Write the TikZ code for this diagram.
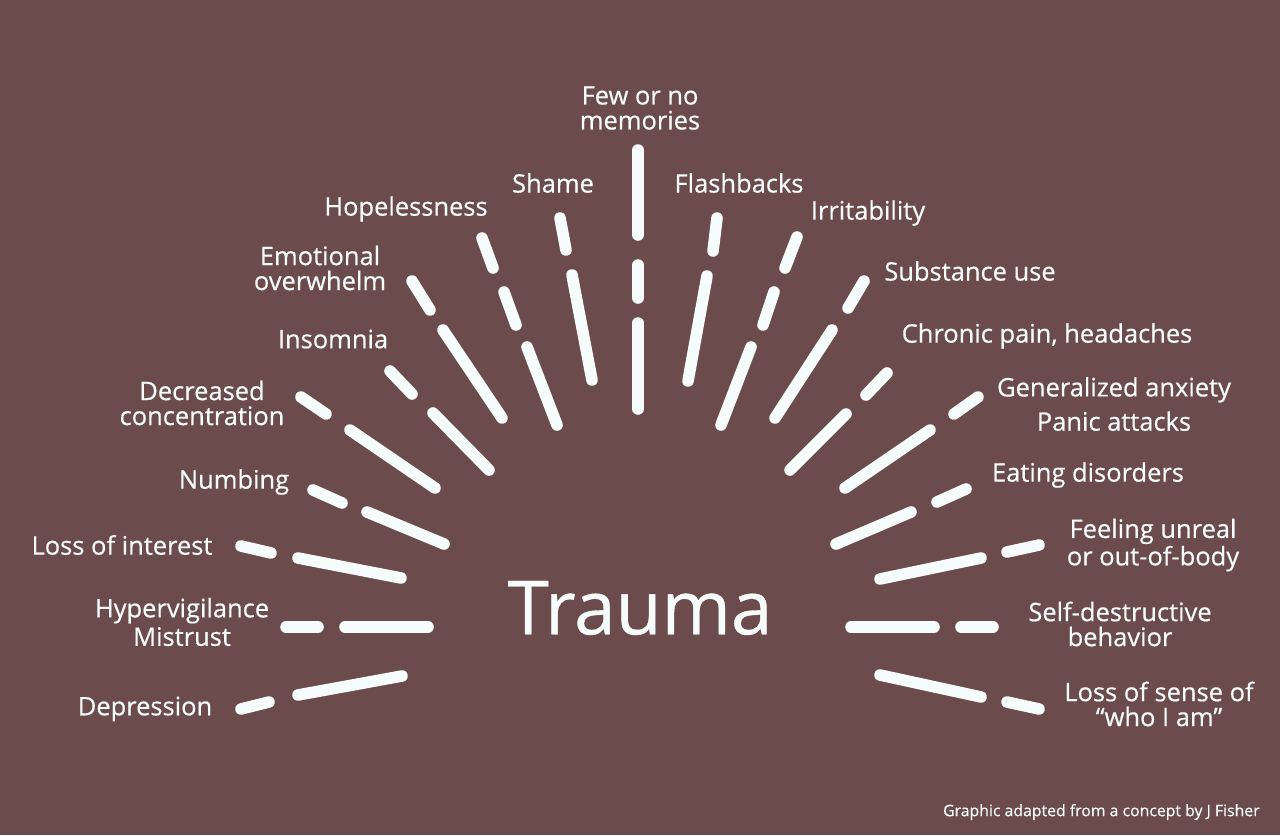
\documentclass[tikz,border=0pt]{standalone}
\usepackage{fontspec}
\setmainfont{Open Sans}[FakeBold=0.5]
\usepackage{xcolor}
\definecolor{bgbrown}{RGB}{107,75,76}
\definecolor{raywhite}{RGB}{246,251,251}

\begin{document}
\begin{tikzpicture}[x=0.02cm,y=-0.02cm,
  ray/.style={raywhite,line width=6.6pt,line cap=round},
  lbl/.style={text=raywhite,align=center,inner sep=0pt,font=\fontsize{14.5}{14.2}\selectfont}]
\fill[bgbrown] (0,0) rectangle (1280,835);
\useasboundingbox (0,0) rectangle (1280,835);
\node[lbl,font=\fontsize{42.5}{45}\selectfont] (trauma) at (640,608) {Trauma};
% left half
\draw[ray] (241,709) -- (269,702);
\draw[ray] (298,695) -- (402,676);
\draw[ray] (286,627) -- (318,627);
\draw[ray] (345,627) -- (428,627);
\draw[ray] (241,546) -- (271,553);
\draw[ray] (298,558) -- (401,578);
\draw[ray] (313,490) -- (342,503);
\draw[ray] (367,512) -- (444,544);
\draw[ray] (301,397) -- (326,414);
\draw[ray] (350,430) -- (435,488);
\draw[ray] (390,371) -- (412,394);
\draw[ray] (433,413) -- (489,470);
\draw[ray] (412,281) -- (430,310);
\draw[ray] (443,330) -- (502,418);
\draw[ray] (482,238) -- (493,268);
\draw[ray] (504,292) -- (516,325);
\draw[ray] (527,347) -- (557,425);
\draw[ray] (560,218) -- (566,250);
\draw[ray] (572,275) -- (592,380);
% top
\draw[ray] (638,150) -- (638,235);
\draw[ray] (638,265) -- (638,298);
\draw[ray] (638,323) -- (638,409);
% right half
\draw[ray] (717,218) -- (713,251);
\draw[ray] (707,276) -- (688,381);
\draw[ray] (797,237) -- (785,268);
\draw[ray] (774,292) -- (763,325);
\draw[ray] (751,347) -- (721,425);
\draw[ray] (864,281) -- (848,308);
\draw[ray] (832,330) -- (775,418);
\draw[ray] (887,373) -- (866,395);
\draw[ray] (846,414) -- (790,470);
\draw[ray] (978,397) -- (954,414);
\draw[ray] (930,430) -- (845,488);
\draw[ray] (966,489) -- (937,502);
\draw[ray] (911,512) -- (836,544);
\draw[ray] (1039,545) -- (1007,552);
\draw[ray] (981,558) -- (880,579);
\draw[ray] (851,627) -- (934,627);
\draw[ray] (961,627) -- (993,627);
\draw[ray] (880,675) -- (981,697);
\draw[ray] (1007,702) -- (1039,709);
% labels
\node[lbl] (few) at (640,108) {Few or no\\memories};
\node[lbl] (shame) at (553,183) {Shame};
\node[lbl] (hope) at (406,209) {Hopelessness};
\node[lbl] (emo) at (320,268) {Emotional\\overwhelm};
\node[lbl] (insom) at (333,339) {Insomnia};
\node[lbl] (conc) at (202,403) {Decreased\\concentration};
\node[lbl] (numb) at (234,482) {Numbing};
\node[lbl] (interest) at (122,545) {Loss of interest};
\node[lbl] (hyper) at (182,622) {Hypervigilance\\[2pt]Mistrust};
\node[lbl] (depr) at (145,709) {Depression};
\node[lbl] (flash) at (739,183) {Flashbacks};
\node[lbl] (irrit) at (868,213) {Irritability};
\node[lbl] (subst) at (970,271) {Substance use};
\node[lbl] (pain) at (1047,336) {Chronic pain, headaches};
\node[lbl] (anx) at (1114,404) {Generalized anxiety\\[4pt]Panic attacks};
\node[lbl] (eat) at (1088,475) {Eating disorders};
\node[lbl] (unreal) at (1153,545) {Feeling unreal\\or out-of-body};
\node[lbl] (selfd) at (1120,624) {Self-destructive\\behavior};
\node[lbl] (sense) at (1159,704) {Loss of sense of\\“who I am”};
\node[lbl,anchor=east,font=\fontsize{9}{10}\selectfont] (credit) at (1260,812) {Graphic adapted from a concept by J Fisher};
\end{tikzpicture}
\end{document}
